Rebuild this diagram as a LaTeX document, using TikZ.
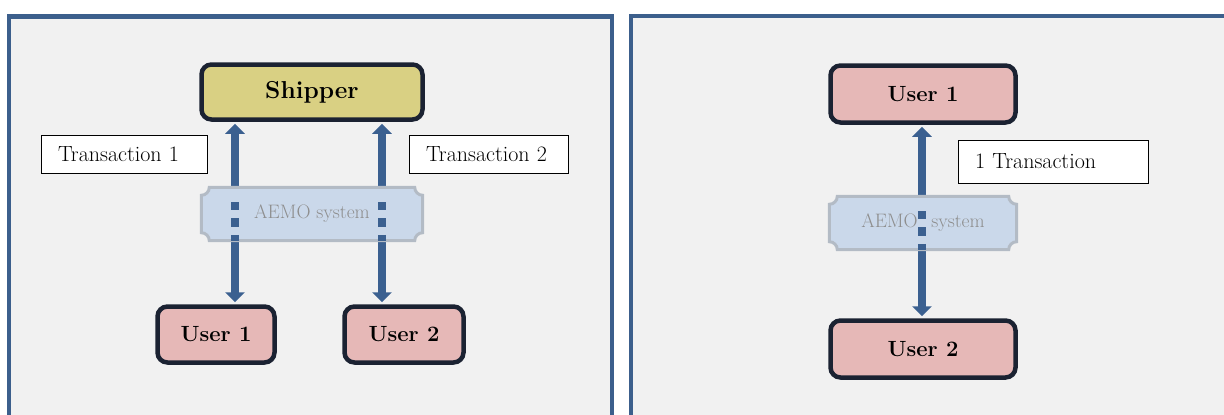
\documentclass[tikz,border=0pt]{standalone}
\usepackage{fontspec}
\usepackage{tikz}
\usetikzlibrary{arrows.meta}

\definecolor{framebl}{HTML}{3C5F8C}
\definecolor{panelgr}{HTML}{F1F1F1}
\definecolor{edgedk}{HTML}{1B2232}
\definecolor{shipyel}{HTML}{D9D083}
\definecolor{userpink}{HTML}{E6B8B7}
\definecolor{arrowbl}{HTML}{3B6090}
\definecolor{aemofill}{HTML}{CAD8EA}
\definecolor{aemoedge}{HTML}{B3BBC5}
\definecolor{aemogray}{HTML}{8E8E8E}

% plaque outline (hollow corners) round a node
\newcommand{\plaque}[1]{%
  \filldraw[plaqueline] ([xshift=8pt]#1.south west) -- ([xshift=-8pt]#1.south east)
    arc[start angle=180, end angle=90, radius=8pt] -- ([yshift=-8pt]#1.north east)
    arc[start angle=270, end angle=180, radius=8pt] -- ([xshift=8pt]#1.north west)
    arc[start angle=0, end angle=-90, radius=8pt] -- ([yshift=8pt]#1.south west)
    arc[start angle=90, end angle=0, radius=8pt] -- cycle;}

\begin{document}
\begin{tikzpicture}[x=1pt, y=1pt,
    frame/.style={draw=framebl, line width=4.5pt},
    usrbox/.style={draw=edgedk, line width=4.5pt, rounded corners=10pt, fill=userpink,
        font=\fontsize{22}{26}\selectfont\bfseries},
    shipbox/.style={usrbox, fill=shipyel, font=\fontsize{24.5}{28}\selectfont\bfseries},
    tbox/.style={draw=black, line width=0.9pt, fill=white, inner xsep=17pt, align=left,
        font=\fontsize{22}{26}\selectfont},
    plaquebox/.style={inner sep=0pt},
    plaqueline/.style={fill=aemofill, draw=aemoedge, line width=3pt},
    aemo/.style={inner sep=0pt, text=aemogray, font=\fontsize{19.5}{23}\selectfont},
    link/.style={{Triangle[length=10pt,width=19pt]}-{Triangle[length=10pt,width=19pt]},
        draw=arrowbl, line width=7.5pt, shorten <=2pt, shorten >=2pt},
    cut/.style={draw=arrowbl, line width=7.5pt,
        dash pattern=on 0pt off 15pt on 8pt off 8pt on 8.5pt off 8pt on 30pt}]

    \useasboundingbox (0,0) rectangle (1224,-415);
    \clip (0,0) rectangle (1224,-415);

    % panels
    \fill[panelgr] (9,-16.5) rectangle (612,-420);
    \fill[panelgr] (631,-16) rectangle (1230,-420);
    \draw[frame] (9,-420) -- (9,-16.5) -- (612,-16.5) -- (612,-420);
    \draw[frame] (631,-420) -- (631,-16) -- (1230,-16);

    % left: two transactions
    \node[shipbox, minimum width=221pt, minimum height=55pt] (ship) at (312,-92) {Shipper};
    \node[usrbox, minimum width=117pt, minimum height=56pt] (u1) at (216,-334.5) {User 1};
    \node[usrbox, minimum width=119pt, minimum height=56pt] (u2) at (404,-334.5) {User 2};
    \node[tbox, text width=132pt, minimum height=38pt] (t1) at (124,-154) {Transaction 1};
    \node[tbox, text width=125pt, minimum height=38pt] (t2) at (488.5,-154) {Transaction 2};

    \coordinate (xa) at (235,0);
    \coordinate (xb) at (382,0);
    \draw[link] (ship.south -| xa) -- (u1.north -| xa);
    \draw[link] (ship.south -| xb) -- (u2.north -| xb);

    \node[plaquebox, minimum width=221pt, minimum height=53pt] (aemoL) at (312,-214) {};
    \plaque{aemoL}
    \node[aemo] (aemoLtxt) at (aemoL) {AEMO system};
    \draw[cut] (aemoL.north -| xa) -- (aemoL.south -| xa);
    \draw[cut] (aemoL.north -| xb) -- (aemoL.south -| xb);

    % right: one transaction
    \node[usrbox, minimum width=185pt, minimum height=57pt] (r1) at (923,-94) {User 1};
    \node[usrbox, minimum width=185pt, minimum height=57pt] (r2) at (923,-349) {User 2};
    \node[tbox, text width=156pt, minimum height=43pt] (t3) at (1053,-161.5) {1 Transaction};

    \coordinate (xc) at (922,0);
    \draw[link] (r1.south -| xc) -- (r2.north -| xc);

    \node[plaquebox, minimum width=187pt, minimum height=53pt] (aemoR) at (923,-223) {};
    \plaque{aemoR}
    \node[aemo] (aemoRtxt) at (aemoR) {AEMO\hspace{0.7em}system};
    \draw[cut] (aemoR.north -| xc) -- (aemoR.south -| xc);

\end{tikzpicture}
\end{document}
